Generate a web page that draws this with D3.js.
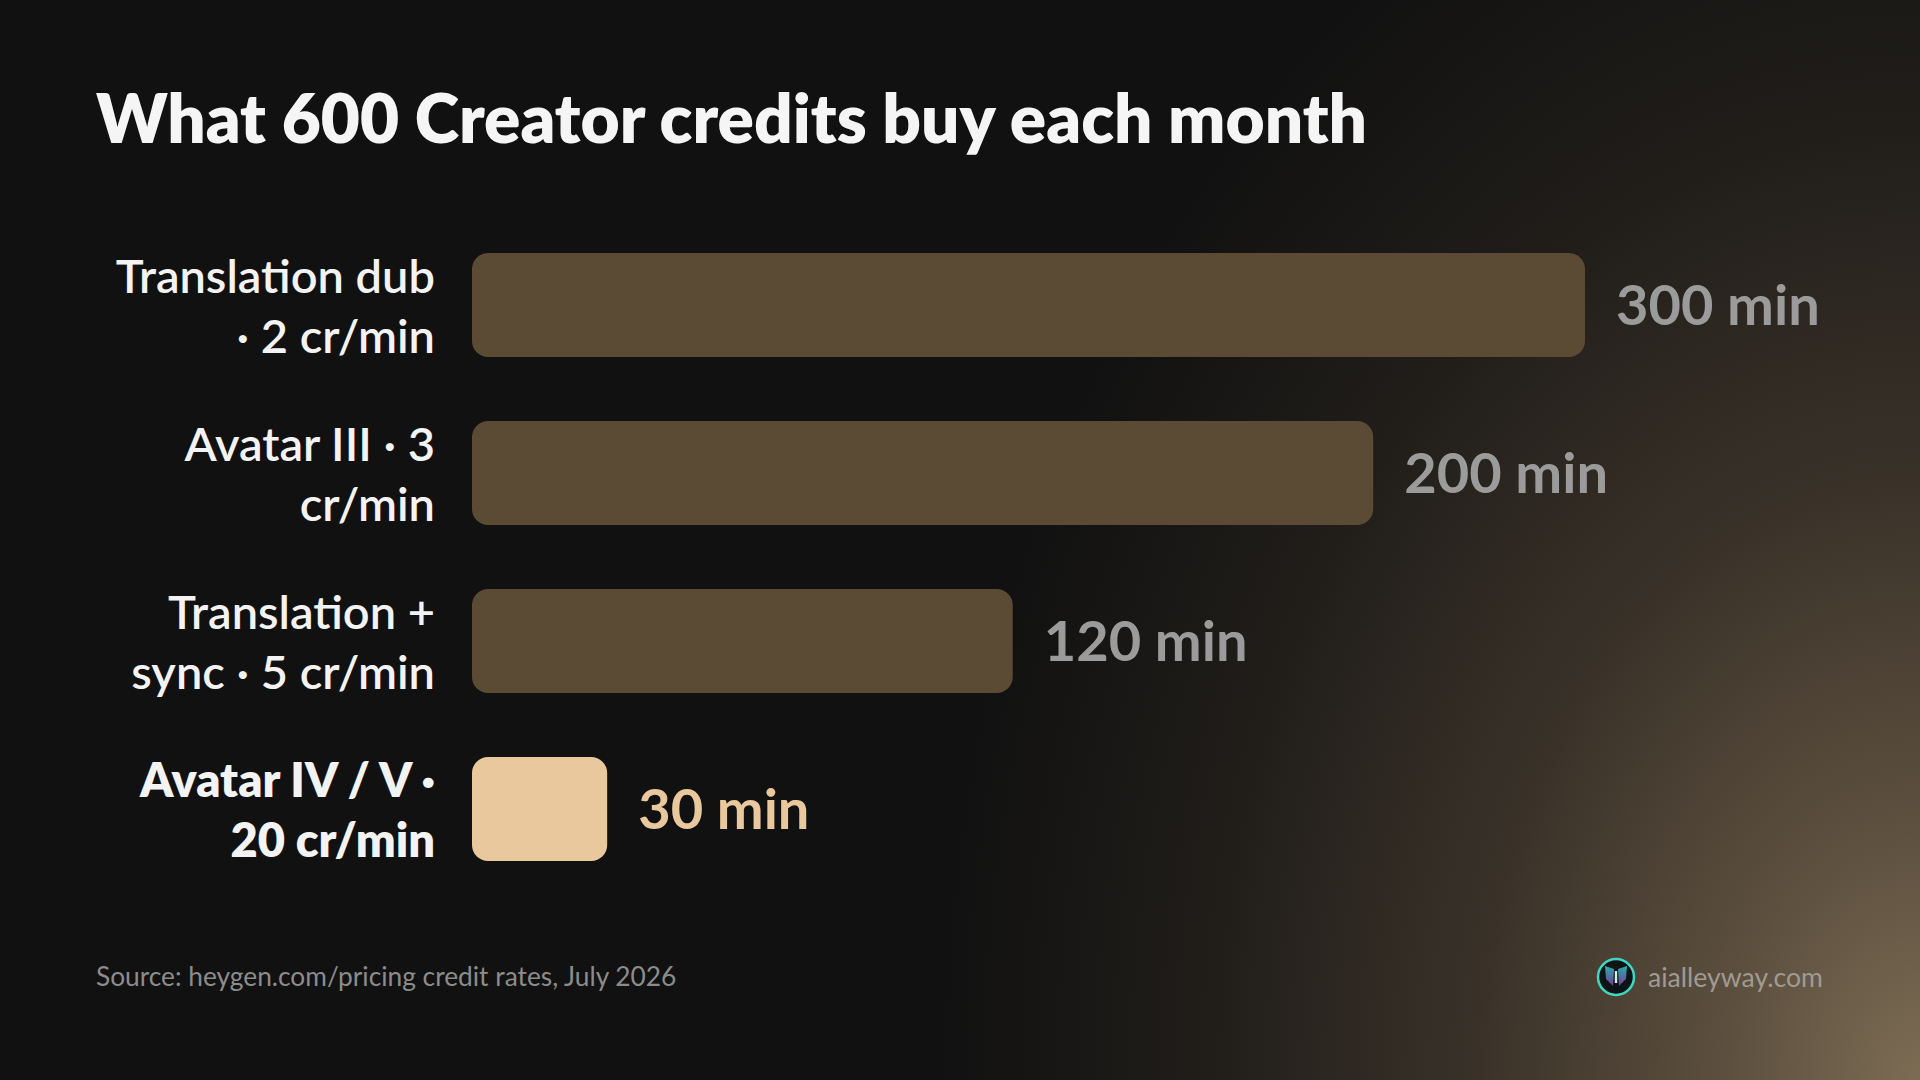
<!DOCTYPE html>
<html>
<head>
<meta charset="utf-8">
<script src="https://cdn.jsdelivr.net/npm/d3@7"></script>
<style>
  html, body { margin: 0; padding: 0; background: #111111; }
  svg { display: block; }
  text { font-family: Lato, "Open Sans", "Noto Sans", sans-serif; }
</style>
</head>
<body>
<svg id="chart" width="1920" height="1080"></svg>
<script>
// ---- data ----
const title = "What 600 Creator credits buy each month";
const labelLines = [
  ["Translation dub", "· 2 cr/min"],
  ["Avatar III · 3", "cr/min"],
  ["Translation +", "sync · 5 cr/min"],
  ["Avatar IV / V ·", "20 cr/min"]
];
const minutes = [300, 200, 120, 30];
const highlighted = [false, false, false, true];
const valueSuffix = " min";
const sourceText = "Source: heygen.com/pricing credit rates, July 2026";
const brandText = "aialleyway.com";
const axisMax = 247; // bars are capped at this value

// ---- layout ----
const W = 1920, H = 1080;
const plotLeft = 472, plotRight = 1585;
const plotTop = 253, plotBottom = 861;

const svg = d3.select("#chart");
const defs = svg.append("defs");

const bg = defs.append("radialGradient")
  .attr("id", "bgGlow")
  .attr("gradientUnits", "userSpaceOnUse")
  .attr("cx", W).attr("cy", H).attr("r", 980)
  .attr("gradientTransform", `translate(${W},${H}) scale(1,1.35) translate(${-W},${-H})`);
[[0, "#7c6c54"], [0.2, "#5c4f3e"], [0.45, "#3a3229"], [0.72, "#211e1a"], [1, "#111111"]]
  .forEach(([o, c]) => bg.append("stop").attr("offset", o).attr("stop-color", c));

svg.append("rect").attr("width", W).attr("height", H).attr("fill", "#111111");
svg.append("rect").attr("width", W).attr("height", H).attr("fill", "url(#bgGlow)");

// title
svg.append("text")
  .attr("x", 96).attr("y", 143)
  .attr("fill", "#f5f5f5")
  .attr("font-size", 67.5).attr("font-weight", 800)
  .text(title);

const ids = minutes.map((d, i) => i);
const x = d3.scaleLinear().domain([0, axisMax]).range([0, plotRight - plotLeft]).clamp(true);
const y = d3.scaleBand().domain(ids).range([plotTop, plotBottom]).paddingInner(0.381).paddingOuter(0);

const rows = svg.append("g").selectAll("g.row").data(ids).join("g").attr("class", "row");

rows.append("rect")
  .attr("x", plotLeft)
  .attr("y", i => y(i))
  .attr("width", i => x(minutes[i]))
  .attr("height", y.bandwidth())
  .attr("rx", 16).attr("ry", 16)
  .attr("fill", i => highlighted[i] ? "#e8c89c" : "#5b4b34");

rows.append("text")
  .attr("x", i => plotLeft + x(minutes[i]) + 31)
  .attr("y", i => y(i) + y.bandwidth() / 2 + 20)
  .attr("font-size", 56).attr("font-weight", 700)
  .attr("fill", i => highlighted[i] ? "#e8c89c" : "#9b9b9b")
  .text(i => minutes[i] + valueSuffix);

const lab = rows.append("text")
  .attr("text-anchor", "end")
  .attr("font-size", 47)
  .attr("font-weight", i => highlighted[i] ? 800 : 600)
  .attr("fill", "#f3f3f3");
lab.each(function(i) {
  const t = d3.select(this);
  const cy = y(i) + y.bandwidth() / 2;
  labelLines[i].forEach((line, k) => {
    t.append("tspan")
      .attr("x", 435)
      .attr("y", cy - 12 + k * 60)
      .text(line);
  });
});

// footer
svg.append("text")
  .attr("x", 96).attr("y", 986)
  .attr("font-size", 26.3).attr("font-weight", 400)
  .attr("fill", "#8c8c8c")
  .text(sourceText);

const brand = svg.append("g").attr("transform", "translate(1616,977)");
const wg = defs.append("linearGradient").attr("id", "wing").attr("x1", 0).attr("y1", 0).attr("x2", 0).attr("y2", 1);
wg.append("stop").attr("offset", 0).attr("stop-color", "#2fc9c0");
wg.append("stop").attr("offset", 1).attr("stop-color", "#8a3fb0");
brand.append("circle").attr("r", 18).attr("fill", "#0c1416").attr("stroke", "#3fd6c2").attr("stroke-width", 2.5);
brand.append("path").attr("d", "M-2,-8 L-11,-11 L-10,2 L-3,9 Z").attr("fill", "url(#wing)").attr("opacity", 0.85);
brand.append("path").attr("d", "M2,-8 L11,-11 L10,2 L3,9 Z").attr("fill", "url(#wing)").attr("opacity", 0.85);
brand.append("rect").attr("x", -1.2).attr("y", -6).attr("width", 2.4).attr("height", 12).attr("fill", "#cfeee8");

svg.append("text")
  .attr("x", 1648).attr("y", 987)
  .attr("font-size", 26.6).attr("font-weight", 400)
  .attr("fill", "#a09a93")
  .text(brandText);
</script>
</body>
</html>
